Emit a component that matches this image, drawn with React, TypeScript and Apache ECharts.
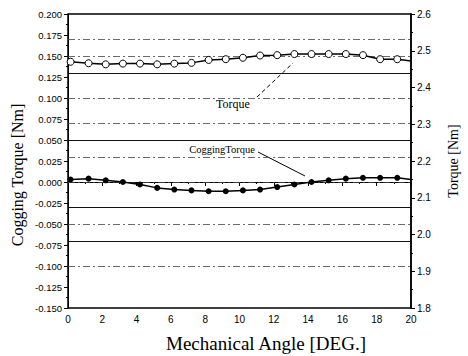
import React, { useEffect, useRef } from "react";
import * as echarts from "echarts";

const angles = [0.15, 1.2, 2.2, 3.2, 4.2, 5.2, 6.2, 7.2, 8.2, 9.2, 10.2, 11.2, 12.2, 13.2, 14.2, 15.2, 16.2, 17.2, 18.2, 19.2];
const coggingTorque = [0.003, 0.004, 0.002, 0.0, -0.003, -0.007, -0.009, -0.01, -0.011, -0.011, -0.01, -0.009, -0.006, -0.003, 0.0, 0.002, 0.004, 0.005, 0.005, 0.005];
const torque = [2.47, 2.466, 2.463, 2.465, 2.465, 2.463, 2.465, 2.467, 2.475, 2.477, 2.481, 2.487, 2.488, 2.491, 2.491, 2.491, 2.491, 2.488, 2.477, 2.477];
const lineEndAngle = 20;
const coggingEnd = 0.003;
const torqueEnd = 2.472;

const solidLevels = [0.125, 0.05, -0.025, -0.075];
const dashLevels = [0.175, 0.15, 0.1, 0.075, 0.025, 0.0, -0.05, -0.1];

const serif = "'Liberation Serif', 'Times New Roman', serif";
const sans = "'Liberation Sans', Arial, sans-serif";

export default function App() {
  const ref = useRef<HTMLDivElement>(null);
  useEffect(() => {
    if (!ref.current) return;
    const chart = echarts.init(ref.current, undefined, { renderer: "svg" });
    const coggingData: any[] = angles.map((a, i) => [a, coggingTorque[i]]);
    coggingData.push({ value: [lineEndAngle, coggingEnd], symbol: "none" });
    const torqueData: any[] = angles.map((a, i) => [a, torque[i]]);
    torqueData.push({ value: [lineEndAngle, torqueEnd], symbol: "none" });

    const markLines = [
      ...solidLevels.map((v) => ({ yAxis: v, lineStyle: { type: "solid", color: "#111", width: 1 } })),
      ...dashLevels.map((v) => ({ yAxis: v, lineStyle: { type: [7, 3, 2, 3], color: "#444", width: 0.8 } })),
    ];

    chart.setOption({
      animation: false,
      backgroundColor: "#fff",
      grid: { left: 68, right: 46, top: 14, bottom: 48, show: true, borderColor: "#000", borderWidth: 1.5 },
      xAxis: {
        type: "value",
        min: 0,
        max: 20,
        interval: 2,
        axisLine: { lineStyle: { color: "#000", width: 1 } },
        axisTick: { show: true, inside: false, length: 4, lineStyle: { color: "#000" } },
        minorTick: { show: true, splitNumber: 2, length: 2, lineStyle: { color: "#000" } },
        axisLabel: { fontFamily: sans, fontSize: 10, color: "#000", margin: 6 },
        splitLine: { show: false },
      },
      yAxis: [
        {
          type: "value",
          position: "left",
          min: -0.15,
          max: 0.2,
          interval: 0.025,
          axisLine: { show: true, lineStyle: { color: "#000", width: 1 } },
          axisTick: { show: true, inside: false, length: 4, lineStyle: { color: "#000" } },
          minorTick: { show: true, splitNumber: 2, length: 2, lineStyle: { color: "#000" } },
          axisLabel: { fontFamily: sans, fontSize: 9.5, color: "#000", margin: 6, formatter: (v: number) => v.toFixed(3) },
          splitLine: { show: false },
        },
        {
          type: "value",
          position: "right",
          min: 1.8,
          max: 2.6,
          interval: 0.1,
          name: "Torque [Nm]",
          nameLocation: "middle",
          nameRotate: 90,
          nameGap: 35,
          nameTextStyle: { fontFamily: serif, fontSize: 14, color: "#000" },
          axisLine: { show: true, lineStyle: { color: "#000", width: 1.5 } },
          axisTick: { show: true, inside: false, length: 4, lineStyle: { color: "#000" } },
          minorTick: { show: true, splitNumber: 2, length: 2, lineStyle: { color: "#000" } },
          axisLabel: { fontFamily: sans, fontSize: 10, color: "#000", margin: 6, formatter: (v: number) => v.toFixed(1) },
          splitLine: { show: false },
        },
      ],
      series: [
        {
          name: "Cogging Torque",
          type: "line",
          yAxisIndex: 0,
          data: coggingData,
          symbol: "circle",
          symbolSize: 6,
          itemStyle: { color: "#000" },
          lineStyle: { color: "#000", width: 1.5 },
          z: 3,
          markLine: {
            silent: true,
            symbol: "none",
            label: { show: false },
            data: markLines,
            z: 1,
          },
        },
        {
          name: "Torque",
          type: "line",
          yAxisIndex: 1,
          data: torqueData,
          symbol: "circle",
          symbolSize: 7,
          itemStyle: { color: "#fff", borderColor: "#000", borderWidth: 1 },
          lineStyle: { color: "#000", width: 1.5 },
          z: 3,
        },
      ],
      graphic: [
        {
          type: "text",
          x: 266,
          y: 343,
          style: { text: "Mechanical Angle [DEG.]", fontFamily: serif, fontSize: 19, fill: "#000", align: "center", verticalAlign: "middle" },
        },
        {
          type: "text",
          x: 17,
          y: 175,
          rotation: Math.PI / 2,
          style: { text: "Cogging Torque [Nm]", fontFamily: serif, fontSize: 16, fill: "#000", align: "center", verticalAlign: "middle" },
        },
        {
          type: "text",
          x: 233,
          y: 104,
          style: { text: "Torque", fontFamily: serif, fontSize: 12, fill: "#000", align: "center", verticalAlign: "middle" },
        },
        {
          type: "line",
          shape: { x1: 257, y1: 97, x2: 293, y2: 63 },
          style: { stroke: "#000", lineWidth: 1, lineDash: [4, 3] },
        },
        {
          type: "text",
          x: 222,
          y: 149,
          style: { text: "CoggingTorque", fontFamily: serif, fontSize: 10.5, fill: "#000", align: "center", verticalAlign: "middle" },
        },
        {
          type: "line",
          shape: { x1: 258, y1: 152, x2: 305, y2: 176 },
          style: { stroke: "#000", lineWidth: 1 },
        },
      ],
    });
    return () => chart.dispose();
  }, []);
  return <div ref={ref} style={{ width: 468, height: 356, position: "absolute", left: 0, top: 0 }} />;
}
